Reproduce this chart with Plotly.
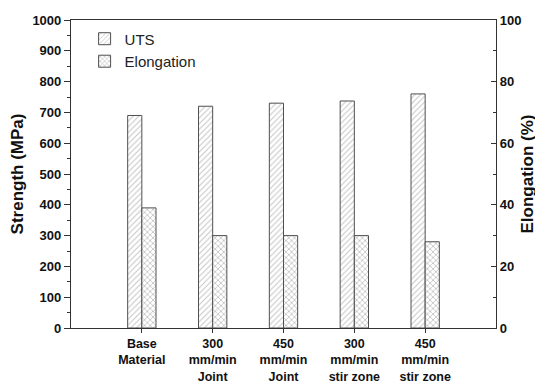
import plotly.graph_objects as go

categories = ["Base<br>Material", "300<br>mm/min<br>Joint", "450<br>mm/min<br>Joint",
              "300<br>mm/min<br>stir zone", "450<br>mm/min<br>stir zone"]
uts = [690, 720, 730, 737, 760]
elongation = [39, 30, 30, 30, 28]

FONT = "Arial, Liberation Sans, sans-serif"
OUT = "#505050"

fig = go.Figure()
fig.add_trace(go.Bar(
    x=categories, y=uts, name="UTS", yaxis="y",
    width=0.2, offset=-0.2,
    marker=dict(color="white", line=dict(color=OUT, width=1),
                pattern=dict(shape="/", fgcolor="#8a8a8a", bgcolor="white", size=4, solidity=0.25)),
))
fig.add_trace(go.Bar(
    x=categories, y=elongation, name="Elongation", yaxis="y2",
    width=0.2, offset=0.0,
    marker=dict(color="white", line=dict(color=OUT, width=1),
                pattern=dict(shape="x", fgcolor="#7a7a7a", bgcolor="white", size=4, solidity=0.35)),
))

axis_line = dict(showline=True, linecolor="#333", linewidth=1.2)
tickfont = dict(family=FONT, size=13, color="#111", weight="bold")
xtickfont = dict(family=FONT, size=12.5, color="#111", weight="bold")

fig.update_layout(
    width=543, height=383,
    margin=dict(l=63, r=55, t=12, b=63, autoexpand=False),
    paper_bgcolor="white", plot_bgcolor="white",
    barmode="overlay",
    showlegend=True,
    legend=dict(x=0.032, y=0.992, xanchor="left", yanchor="top",
                font=dict(family=FONT, size=15, color="#222"),
                bgcolor="rgba(0,0,0,0)", tracegroupgap=4),
    xaxis=dict(range=[-1, 5], type="category", **axis_line, mirror=True, automargin=False,
               ticks="outside", ticklen=4, tickcolor="#333", ticklabelstandoff=0,
               tickfont=xtickfont, showgrid=False, zeroline=False),
    yaxis=dict(range=[0, 1000], dtick=100, **axis_line, automargin=False,
               ticks="outside", ticklen=6, tickcolor="#333",
               minor=dict(dtick=50, ticks="outside", ticklen=3, tickcolor="#333"),
               tickfont=tickfont, showgrid=False, zeroline=False,
               title=dict(text="Strength (MPa)", font=dict(family=FONT, size=17, color="#111", weight="bold"),
                          standoff=5)),
    yaxis2=dict(range=[0, 100], dtick=20, overlaying="y", side="right", **axis_line, automargin=False,
                ticks="inside", ticklen=5, tickcolor="#333",
                minor=dict(dtick=10, ticks="inside", ticklen=3, tickcolor="#333"),
                tickfont=tickfont, showgrid=False, zeroline=False,
                title=dict(text="Elongation (%)", font=dict(family=FONT, size=17, color="#111", weight="bold"),
                           standoff=0)),
)

fig.write_html("out.html")
